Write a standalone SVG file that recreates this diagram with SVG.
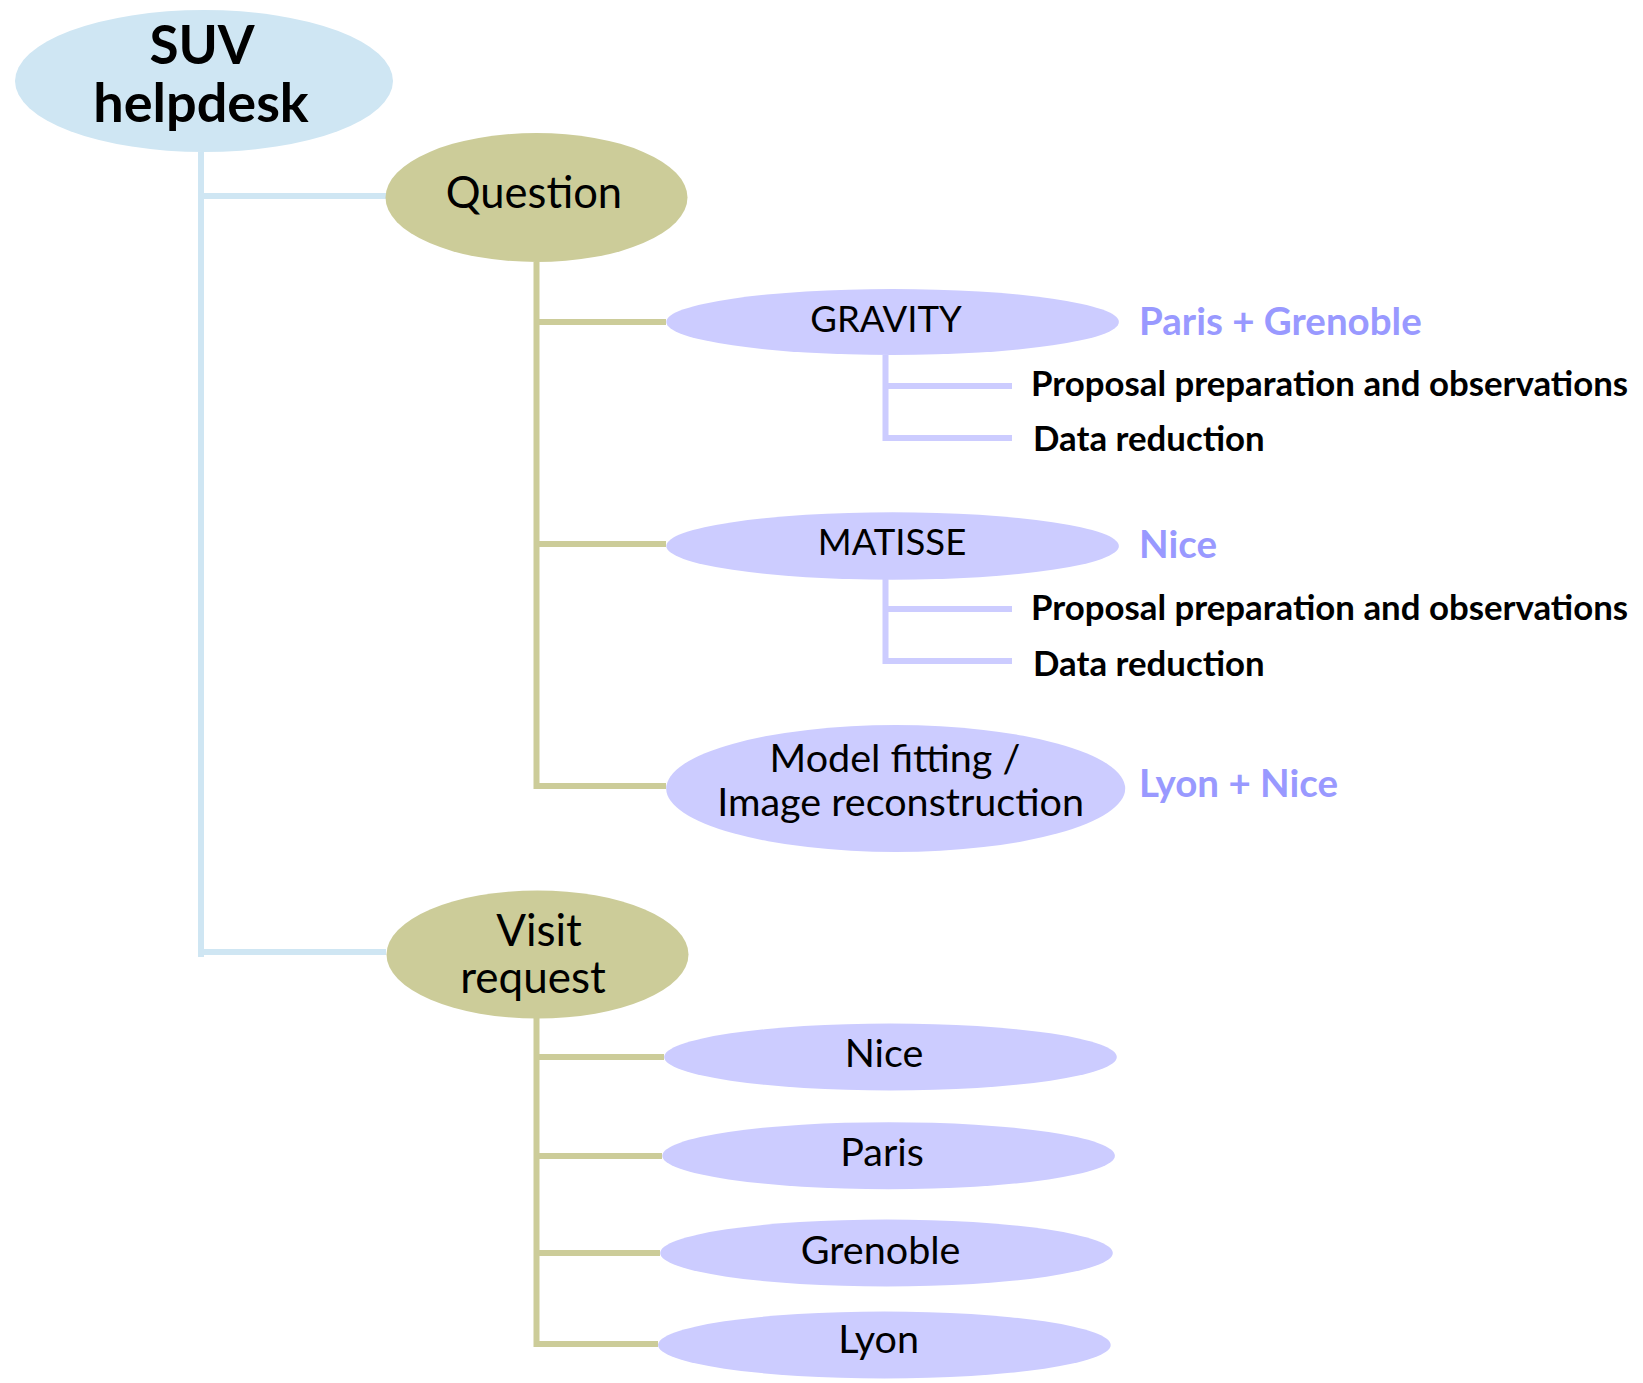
<svg xmlns="http://www.w3.org/2000/svg" width="1643" height="1383" viewBox="0 0 1643 1383">
<style>
text{font-family:Lato,"Liberation Sans",sans-serif;fill:#000}
.root{fill:#cfe6f3}
.cat{fill:#cccc99}
.leaf{fill:#ccccff}
.lab{text-anchor:middle}
.big{font-size:43.5px}
.mid{font-size:36.5px}
.city{font-size:39.5px}
.site{font-size:38.5px;font-weight:bold;fill:#9999ff}
.task{font-size:34.8px;font-weight:bold}
.lb{stroke:#cfe6f3;stroke-width:6;fill:none}
.lo{stroke:#cccc99;stroke-width:6;fill:none}
.lv{stroke:#ccccff;stroke-width:6;fill:none}
</style>
<rect width="1643" height="1383" fill="#fff"/>
<g id="connectors">
<path class="lb" d="M201 152V957M201 196H386M201 952H386"/>
<path class="lo" d="M536.5 262V789M536.5 322H666M536.5 544H666M536.5 786H666"/>
<path class="lv" d="M885.5 355V441M885.5 386H1012M885.5 438H1012"/>
<path class="lv" d="M885.5 579V664M885.5 609H1012M885.5 661H1012"/>
<path class="lo" d="M536.5 1018V1347M536.5 1057H664M536.5 1156H662M536.5 1253H660M536.5 1344H658"/>
</g>
<g id="suv">
<ellipse class="root" cx="204" cy="81" rx="189" ry="71"/>
<text class="lab" x="202" y="64" font-size="53" font-weight="bold">SUV</text>
<text class="lab" x="201" y="122" font-size="54" font-weight="bold">helpdesk</text>
</g>
<g id="question">
<ellipse class="cat" cx="536.5" cy="197.5" rx="151" ry="64.5"/>
<text class="lab big" x="534" y="208">Question</text>
</g>
<g id="gravity">
<ellipse class="leaf" cx="892.6" cy="322" rx="226.3" ry="33"/>
<text class="lab mid" x="886" y="332">GRAVITY</text>
</g>
<text class="site" x="1139" y="335">Paris + Grenoble</text>
<text class="task" x="1031" y="396">Proposal preparation and observations</text>
<text class="task" x="1033" y="451">Data reduction</text>
<g id="matisse">
<ellipse class="leaf" cx="892.6" cy="546" rx="226.3" ry="33.7"/>
<text class="lab mid" x="892" y="555">MATISSE</text>
</g>
<text class="site" x="1139" y="558">Nice</text>
<text class="task" x="1031" y="620">Proposal preparation and observations</text>
<text class="task" x="1033" y="676">Data reduction</text>
<g id="model">
<ellipse class="leaf" cx="895.7" cy="788.5" rx="229.5" ry="63.4"/>
<text class="lab" x="895" y="772" font-size="39.5">Model fitting /</text>
<text class="lab" x="900.6" y="816" font-size="39.5">Image reconstruction</text>
</g>
<text class="site" x="1139" y="797">Lyon + Nice</text>
<g id="visit">
<ellipse class="cat" cx="537.5" cy="954.5" rx="151" ry="64"/>
<text class="lab" x="539" y="946" font-size="44">Visit</text>
<text class="lab" x="533" y="993" font-size="44">request</text>
</g>
<g id="nice">
<ellipse class="leaf" cx="890.5" cy="1057" rx="226.3" ry="33.5"/>
<text class="lab city" x="884" y="1067">Nice</text>
</g>
<g id="paris">
<ellipse class="leaf" cx="888.6" cy="1155.7" rx="226.3" ry="33.5"/>
<text class="lab city" x="882" y="1166">Paris</text>
</g>
<g id="grenoble">
<ellipse class="leaf" cx="886.5" cy="1253" rx="226.3" ry="33.5"/>
<text class="lab city" x="880.6" y="1264">Grenoble</text>
</g>
<g id="lyon">
<ellipse class="leaf" cx="884.4" cy="1345" rx="226.3" ry="33.5"/>
<text class="lab city" x="878.6" y="1353">Lyon</text>
</g>
</svg>
